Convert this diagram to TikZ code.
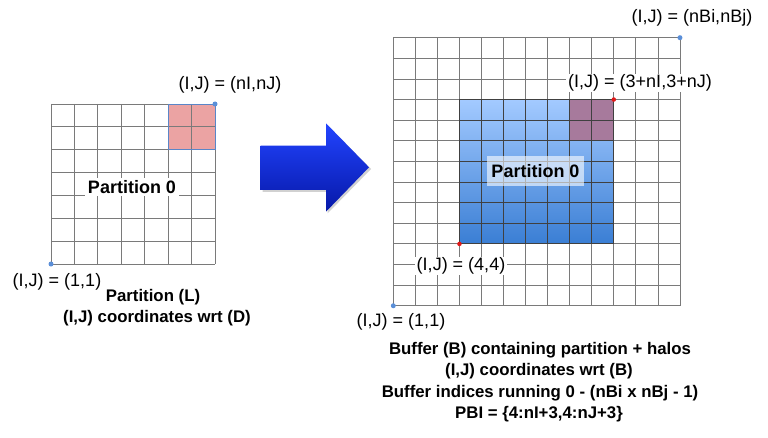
\documentclass[tikz,border=0pt]{standalone}
\usepackage{fontspec}
\setmainfont{Liberation Sans}
\usetikzlibrary{calc}
\definecolor{gridgray}{HTML}{7A7A7A}
\definecolor{pinkfill}{HTML}{EBA3A3}
\definecolor{pinkedge}{HTML}{5A86C8}
\definecolor{dotblue}{HTML}{5B8FD8}
\definecolor{dotred}{HTML}{E01818}
\definecolor{bluetop}{HTML}{A3CAFF}
\definecolor{bluebot}{HTML}{3A7ED4}
\definecolor{purplefill}{HTML}{A77A9C}
\definecolor{arrowtop}{HTML}{2244FF}
\definecolor{arrowbot}{HTML}{0618A8}
\tikzset{
  gridline/.style={draw=gridgray, line width=0.8pt},
  lbl/.style={font=\fontsize{18}{21}\selectfont, inner sep=1pt},
  bold/.style={font=\fontsize{16.8}{19}\selectfont\bfseries, inner sep=1pt},
  boldbig/.style={font=\fontsize{18}{21}\selectfont\bfseries, inner sep=1pt},
  dotb/.style={circle, fill=dotblue, inner sep=0pt, minimum size=5pt},
  dotr/.style={circle, fill=dotred, inner sep=0pt, minimum size=4.5pt},
}
\begin{document}
\begin{tikzpicture}[x=1pt,y=-1pt]
\useasboundingbox (0,0) rectangle (768,438);
% ---------- left grid ----------
\def\lx{51}\def\ly{104}\def\lw{23.43}\def\lh{22.86}
\fill[pinkfill] (\lx+5*\lw,\ly) rectangle (\lx+7*\lw,\ly+2*\lh);
\foreach \i in {0,...,7} {
  \draw[gridline] (\lx+\i*\lw,\ly) -- (\lx+\i*\lw,\ly+7*\lh);
  \draw[gridline] (\lx,\ly+\i*\lh) -- (\lx+7*\lw,\ly+\i*\lh);
}
\draw[pinkedge, line width=0.9pt] (\lx+5*\lw,\ly) rectangle (\lx+7*\lw,\ly+2*\lh);
\node[dotb] (ltr) at (\lx+7*\lw,\ly) {};
\node[dotb] (lbl) at (\lx,\ly+7*\lh) {};
\node[lbl] (lnn) at (230,85) {(I,J) = (nI,nJ)};
\node[boldbig, fill=white, inner xsep=3pt, inner ysep=2pt] (lp0) at (132,187) {Partition 0};
\node[lbl] (l11) at (57,282) {(I,J) = (1,1)};
\node[bold] (lpl) at (153,297) {Partition (L)};
\node[bold] (lwd) at (157,318) {(I,J) coordinates wrt (D)};
% ---------- arrow ----------
\fill[black, opacity=0.18] (262.5,147.5) -- (327.5,147.5) -- (327.5,125) -- (371,169) -- (327.5,213.5) -- (327.5,192) -- (262.5,192) -- cycle;
\shade[top color=arrowtop, bottom color=arrowbot] (260.7,145.7) -- (326,145.7) -- (326,123.3) -- (369,167.3) -- (326,211.7) -- (326,190) -- (260.7,190) -- cycle;
% ---------- right grid ----------
\def\rx{393.3}\def\ry{37.7}\def\rw{22.05}\def\rh{20.62}
\shade[top color=bluetop, bottom color=bluebot] (\rx+3*\rw,\ry+3*\rh) rectangle (\rx+10*\rw,\ry+10*\rh);
\fill[purplefill] (\rx+8*\rw,\ry+3*\rh) rectangle (\rx+10*\rw,\ry+5*\rh);
\foreach \i in {0,...,13} {
  \draw[gridline] (\rx+\i*\rw,\ry) -- (\rx+\i*\rw,\ry+13*\rh);
  \draw[gridline] (\rx,\ry+\i*\rh) -- (\rx+13*\rw,\ry+\i*\rh);
}
\foreach \i in {3,...,10} {
  \draw[black!75, line width=0.8pt] (\rx+\i*\rw,\ry+3*\rh) -- (\rx+\i*\rw,\ry+10*\rh);
  \draw[black!75, line width=0.8pt] (\rx+3*\rw,\ry+\i*\rh) -- (\rx+10*\rw,\ry+\i*\rh);
}
\node[dotb] (rtr) at (\rx+13*\rw,\ry) {};
\node[dotb] (rbl) at (\rx,\ry+13*\rh) {};
\node[dotr] (ptr) at (\rx+10*\rw,\ry+3*\rh) {};
\node[dotr] (pbl) at (\rx+3*\rw,\ry+10*\rh) {};
\node[lbl] (rnb) at (692,18) {(I,J) = (nBi,nBj)};
\node[lbl, fill=white, inner xsep=2pt] (r3n) at (640,83) {(I,J) = (3+nI,3+nJ)};
\node[boldbig, fill=white, fill opacity=0.6, text opacity=1, minimum width=97pt, minimum height=30pt] (rp0) at (535.5,171) {Partition 0};
\node[lbl, fill=white, inner xsep=2pt] (r44) at (461,266) {(I,J) = (4,4)};
\node[lbl] (r11) at (401,322) {(I,J) = (1,1)};
\node[bold] (b1) at (540,350) {Buffer (B) containing partition + halos};
\node[bold] (b2) at (539,371.5) {(I,J) coordinates wrt (B)};
\node[bold] (b3) at (540,393) {Buffer indices running 0 - (nBi x nBj - 1)};
\node[bold] (b4) at (539,414.5) {PBI = \{4:nI+3,4:nJ+3\}};
\end{tikzpicture}
\end{document}
